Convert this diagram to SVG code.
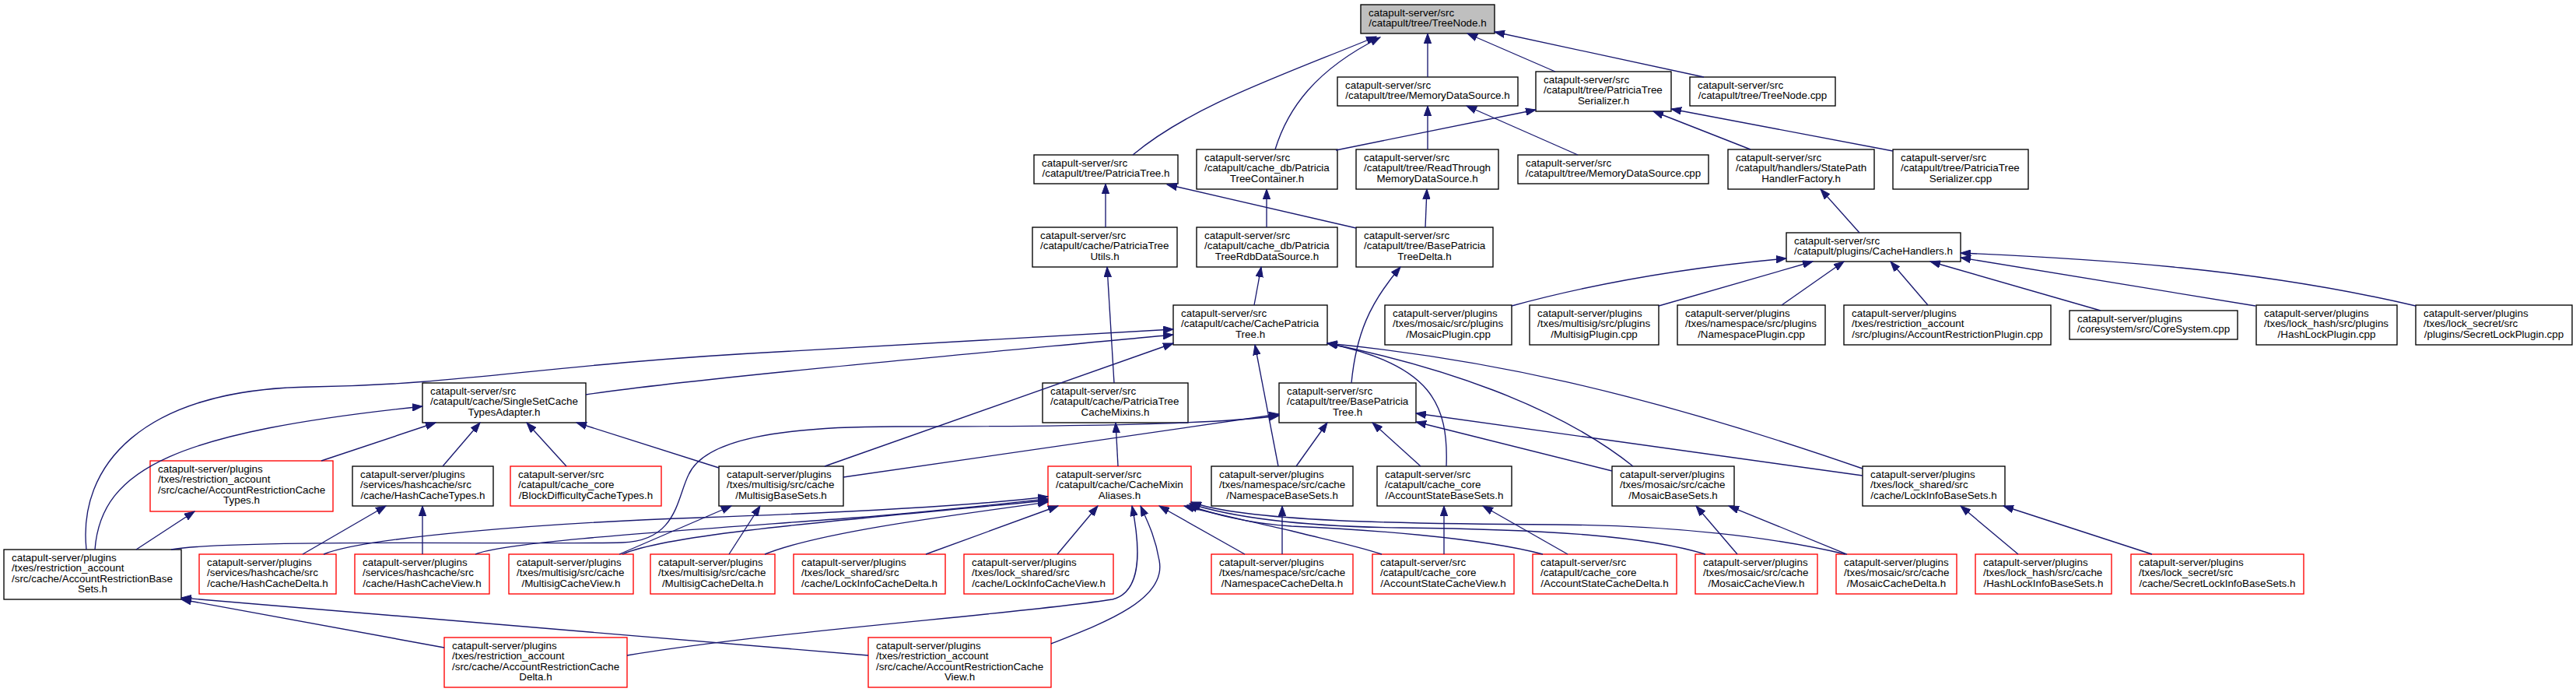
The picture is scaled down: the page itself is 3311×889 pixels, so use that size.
<svg xmlns="http://www.w3.org/2000/svg" width="3311" height="889" viewBox="0 0 3311 889">
<style>
.n rect{fill:#fff;stroke:#000;stroke-width:1.35}
.r rect{stroke:#f00}
.root rect{fill:#bfbfbf}
text{font-family:"Liberation Sans",Arial,Helvetica,sans-serif;font-size:13.4px;fill:#000}
.m{text-anchor:middle}
#edges path{fill:none;stroke:#191970;stroke-width:1.35;marker-end:url(#a)}
</style>
<defs>
<marker id="a" markerUnits="userSpaceOnUse" markerWidth="14" markerHeight="10" refX="13" refY="5" orient="auto"><path d="M0,0.3 L13,5 L0,9.7 Z" fill="#191970" stroke="#191970" stroke-width="1"/></marker>
</defs>
<rect width="3311" height="889" fill="#fff"/>
<g id="nodes">
<g id="n1" class="n root"><rect x="1749" y="6" width="172" height="37"/><text><tspan x="1759" y="21">catapult-server/src</tspan><tspan class="m" x="1835" y="34.4">/catapult/tree/TreeNode.h</tspan></text></g>
<g id="n2" class="n"><rect x="1719" y="99" width="232" height="37"/><text><tspan x="1729" y="114">catapult-server/src</tspan><tspan class="m" x="1835" y="127.4">/catapult/tree/MemoryDataSource.h</tspan></text></g>
<g id="n3" class="n"><rect x="1974" y="92" width="174" height="51"/><text><tspan x="1984" y="107">catapult-server/src</tspan><tspan x="1984" y="120.4">/catapult/tree/PatriciaTree</tspan><tspan class="m" x="2061" y="133.8">Serializer.h</tspan></text></g>
<g id="n4" class="n"><rect x="2172" y="99" width="187" height="37"/><text><tspan x="2182" y="114">catapult-server/src</tspan><tspan class="m" x="2265.5" y="127.4">/catapult/tree/TreeNode.cpp</tspan></text></g>
<g id="n5" class="n"><rect x="1329" y="199" width="185" height="37"/><text><tspan x="1339" y="214">catapult-server/src</tspan><tspan class="m" x="1421.5" y="227.4">/catapult/tree/PatriciaTree.h</tspan></text></g>
<g id="n6" class="n"><rect x="1538" y="192" width="181" height="51"/><text><tspan x="1548" y="207">catapult-server/src</tspan><tspan x="1548" y="220.4">/catapult/cache_db/Patricia</tspan><tspan class="m" x="1628.5" y="233.8">TreeContainer.h</tspan></text></g>
<g id="n7" class="n"><rect x="1743" y="192" width="183" height="51"/><text><tspan x="1753" y="207">catapult-server/src</tspan><tspan x="1753" y="220.4">/catapult/tree/ReadThrough</tspan><tspan class="m" x="1834.5" y="233.8">MemoryDataSource.h</tspan></text></g>
<g id="n8" class="n"><rect x="1951" y="199" width="245" height="37"/><text><tspan x="1961" y="214">catapult-server/src</tspan><tspan class="m" x="2073.5" y="227.4">/catapult/tree/MemoryDataSource.cpp</tspan></text></g>
<g id="n9" class="n"><rect x="2221" y="192" width="188" height="51"/><text><tspan x="2231" y="207">catapult-server/src</tspan><tspan x="2231" y="220.4">/catapult/handlers/StatePath</tspan><tspan class="m" x="2315" y="233.8">HandlerFactory.h</tspan></text></g>
<g id="n10" class="n"><rect x="2433" y="192" width="174" height="51"/><text><tspan x="2443" y="207">catapult-server/src</tspan><tspan x="2443" y="220.4">/catapult/tree/PatriciaTree</tspan><tspan class="m" x="2520" y="233.8">Serializer.cpp</tspan></text></g>
<g id="n11" class="n"><rect x="1327" y="292" width="186" height="51"/><text><tspan x="1337" y="307">catapult-server/src</tspan><tspan x="1337" y="320.4">/catapult/cache/PatriciaTree</tspan><tspan class="m" x="1420" y="333.8">Utils.h</tspan></text></g>
<g id="n12" class="n"><rect x="1538" y="292" width="181" height="51"/><text><tspan x="1548" y="307">catapult-server/src</tspan><tspan x="1548" y="320.4">/catapult/cache_db/Patricia</tspan><tspan class="m" x="1628.5" y="333.8">TreeRdbDataSource.h</tspan></text></g>
<g id="n13" class="n"><rect x="1743" y="292" width="176" height="51"/><text><tspan x="1753" y="307">catapult-server/src</tspan><tspan x="1753" y="320.4">/catapult/tree/BasePatricia</tspan><tspan class="m" x="1831" y="333.8">TreeDelta.h</tspan></text></g>
<g id="n14" class="n"><rect x="2296" y="299" width="224" height="37"/><text><tspan x="2306" y="314">catapult-server/src</tspan><tspan class="m" x="2408" y="327.4">/catapult/plugins/CacheHandlers.h</tspan></text></g>
<g id="n15" class="n"><rect x="1508" y="392" width="198" height="51"/><text><tspan x="1518" y="407">catapult-server/src</tspan><tspan x="1518" y="420.4">/catapult/cache/CachePatricia</tspan><tspan class="m" x="1607" y="433.8">Tree.h</tspan></text></g>
<g id="n16" class="n"><rect x="1780" y="392" width="163" height="51"/><text><tspan x="1790" y="407">catapult-server/plugins</tspan><tspan x="1790" y="420.4">/txes/mosaic/src/plugins</tspan><tspan class="m" x="1861.5" y="433.8">/MosaicPlugin.cpp</tspan></text></g>
<g id="n17" class="n"><rect x="1966" y="392" width="166" height="51"/><text><tspan x="1976" y="407">catapult-server/plugins</tspan><tspan x="1976" y="420.4">/txes/multisig/src/plugins</tspan><tspan class="m" x="2049" y="433.8">/MultisigPlugin.cpp</tspan></text></g>
<g id="n18" class="n"><rect x="2156" y="392" width="190" height="51"/><text><tspan x="2166" y="407">catapult-server/plugins</tspan><tspan x="2166" y="420.4">/txes/namespace/src/plugins</tspan><tspan class="m" x="2251" y="433.8">/NamespacePlugin.cpp</tspan></text></g>
<g id="n19" class="n"><rect x="2370" y="392" width="266" height="51"/><text><tspan x="2380" y="407">catapult-server/plugins</tspan><tspan x="2380" y="420.4">/txes/restriction_account</tspan><tspan class="m" x="2503" y="433.8">/src/plugins/AccountRestrictionPlugin.cpp</tspan></text></g>
<g id="n20" class="n"><rect x="2660" y="399" width="216" height="37"/><text><tspan x="2670" y="414">catapult-server/plugins</tspan><tspan class="m" x="2768" y="427.4">/coresystem/src/CoreSystem.cpp</tspan></text></g>
<g id="n21" class="n"><rect x="2900" y="392" width="181" height="51"/><text><tspan x="2910" y="407">catapult-server/plugins</tspan><tspan x="2910" y="420.4">/txes/lock_hash/src/plugins</tspan><tspan class="m" x="2990.5" y="433.8">/HashLockPlugin.cpp</tspan></text></g>
<g id="n22" class="n"><rect x="3105" y="392" width="201" height="51"/><text><tspan x="3115" y="407">catapult-server/plugins</tspan><tspan x="3115" y="420.4">/txes/lock_secret/src</tspan><tspan class="m" x="3205.5" y="433.8">/plugins/SecretLockPlugin.cpp</tspan></text></g>
<g id="n23" class="n"><rect x="543" y="492" width="210" height="51"/><text><tspan x="553" y="507">catapult-server/src</tspan><tspan x="553" y="520.4">/catapult/cache/SingleSetCache</tspan><tspan class="m" x="648" y="533.8">TypesAdapter.h</tspan></text></g>
<g id="n24" class="n"><rect x="1340" y="492" width="187" height="51"/><text><tspan x="1350" y="507">catapult-server/src</tspan><tspan x="1350" y="520.4">/catapult/cache/PatriciaTree</tspan><tspan class="m" x="1433.5" y="533.8">CacheMixins.h</tspan></text></g>
<g id="n25" class="n"><rect x="1644" y="492" width="176" height="51"/><text><tspan x="1654" y="507">catapult-server/src</tspan><tspan x="1654" y="520.4">/catapult/tree/BasePatricia</tspan><tspan class="m" x="1732" y="533.8">Tree.h</tspan></text></g>
<g id="n26" class="n r"><rect x="193" y="592" width="235" height="65"/><text><tspan x="203" y="607">catapult-server/plugins</tspan><tspan x="203" y="620.4">/txes/restriction_account</tspan><tspan x="203" y="633.8">/src/cache/AccountRestrictionCache</tspan><tspan class="m" x="310.5" y="647.2">Types.h</tspan></text></g>
<g id="n27" class="n"><rect x="453" y="599" width="181" height="51"/><text><tspan x="463" y="614">catapult-server/plugins</tspan><tspan x="463" y="627.4">/services/hashcache/src</tspan><tspan class="m" x="543.5" y="640.8">/cache/HashCacheTypes.h</tspan></text></g>
<g id="n28" class="n r"><rect x="656" y="599" width="194" height="51"/><text><tspan x="666" y="614">catapult-server/src</tspan><tspan x="666" y="627.4">/catapult/cache_core</tspan><tspan class="m" x="753" y="640.8">/BlockDifficultyCacheTypes.h</tspan></text></g>
<g id="n29" class="n"><rect x="924" y="599" width="160" height="51"/><text><tspan x="934" y="614">catapult-server/plugins</tspan><tspan x="934" y="627.4">/txes/multisig/src/cache</tspan><tspan class="m" x="1004" y="640.8">/MultisigBaseSets.h</tspan></text></g>
<g id="n30" class="n r"><rect x="1347" y="599" width="184" height="51"/><text><tspan x="1357" y="614">catapult-server/src</tspan><tspan x="1357" y="627.4">/catapult/cache/CacheMixin</tspan><tspan class="m" x="1439" y="640.8">Aliases.h</tspan></text></g>
<g id="n31" class="n"><rect x="1557" y="599" width="182" height="51"/><text><tspan x="1567" y="614">catapult-server/plugins</tspan><tspan x="1567" y="627.4">/txes/namespace/src/cache</tspan><tspan class="m" x="1648" y="640.8">/NamespaceBaseSets.h</tspan></text></g>
<g id="n32" class="n"><rect x="1770" y="599" width="173" height="51"/><text><tspan x="1780" y="614">catapult-server/src</tspan><tspan x="1780" y="627.4">/catapult/cache_core</tspan><tspan class="m" x="1856.5" y="640.8">/AccountStateBaseSets.h</tspan></text></g>
<g id="n33" class="n"><rect x="2072" y="599" width="157" height="51"/><text><tspan x="2082" y="614">catapult-server/plugins</tspan><tspan x="2082" y="627.4">/txes/mosaic/src/cache</tspan><tspan class="m" x="2150.5" y="640.8">/MosaicBaseSets.h</tspan></text></g>
<g id="n34" class="n"><rect x="2394" y="599" width="183" height="51"/><text><tspan x="2404" y="614">catapult-server/plugins</tspan><tspan x="2404" y="627.4">/txes/lock_shared/src</tspan><tspan class="m" x="2485.5" y="640.8">/cache/LockInfoBaseSets.h</tspan></text></g>
<g id="n35" class="n"><rect x="5" y="706" width="228" height="64"/><text><tspan x="15" y="721">catapult-server/plugins</tspan><tspan x="15" y="734.4">/txes/restriction_account</tspan><tspan x="15" y="747.8">/src/cache/AccountRestrictionBase</tspan><tspan class="m" x="119" y="761.2">Sets.h</tspan></text></g>
<g id="n36" class="n r"><rect x="256" y="712" width="176" height="51"/><text><tspan x="266" y="727">catapult-server/plugins</tspan><tspan x="266" y="740.4">/services/hashcache/src</tspan><tspan class="m" x="344" y="753.8">/cache/HashCacheDelta.h</tspan></text></g>
<g id="n37" class="n r"><rect x="456" y="712" width="173" height="51"/><text><tspan x="466" y="727">catapult-server/plugins</tspan><tspan x="466" y="740.4">/services/hashcache/src</tspan><tspan class="m" x="542.5" y="753.8">/cache/HashCacheView.h</tspan></text></g>
<g id="n38" class="n r"><rect x="654" y="712" width="160" height="51"/><text><tspan x="664" y="727">catapult-server/plugins</tspan><tspan x="664" y="740.4">/txes/multisig/src/cache</tspan><tspan class="m" x="734" y="753.8">/MultisigCacheView.h</tspan></text></g>
<g id="n39" class="n r"><rect x="836" y="712" width="160" height="51"/><text><tspan x="846" y="727">catapult-server/plugins</tspan><tspan x="846" y="740.4">/txes/multisig/src/cache</tspan><tspan class="m" x="916" y="753.8">/MultisigCacheDelta.h</tspan></text></g>
<g id="n40" class="n r"><rect x="1020" y="712" width="195" height="51"/><text><tspan x="1030" y="727">catapult-server/plugins</tspan><tspan x="1030" y="740.4">/txes/lock_shared/src</tspan><tspan class="m" x="1117.5" y="753.8">/cache/LockInfoCacheDelta.h</tspan></text></g>
<g id="n41" class="n r"><rect x="1239" y="712" width="192" height="51"/><text><tspan x="1249" y="727">catapult-server/plugins</tspan><tspan x="1249" y="740.4">/txes/lock_shared/src</tspan><tspan class="m" x="1335" y="753.8">/cache/LockInfoCacheView.h</tspan></text></g>
<g id="n42" class="n r"><rect x="1557" y="712" width="182" height="51"/><text><tspan x="1567" y="727">catapult-server/plugins</tspan><tspan x="1567" y="740.4">/txes/namespace/src/cache</tspan><tspan class="m" x="1648" y="753.8">/NamespaceCacheDelta.h</tspan></text></g>
<g id="n43" class="n r"><rect x="1764" y="712" width="182" height="51"/><text><tspan x="1774" y="727">catapult-server/src</tspan><tspan x="1774" y="740.4">/catapult/cache_core</tspan><tspan class="m" x="1855" y="753.8">/AccountStateCacheView.h</tspan></text></g>
<g id="n44" class="n r"><rect x="1970" y="712" width="185" height="51"/><text><tspan x="1980" y="727">catapult-server/src</tspan><tspan x="1980" y="740.4">/catapult/cache_core</tspan><tspan class="m" x="2062.5" y="753.8">/AccountStateCacheDelta.h</tspan></text></g>
<g id="n45" class="n r"><rect x="2179" y="712" width="157" height="51"/><text><tspan x="2189" y="727">catapult-server/plugins</tspan><tspan x="2189" y="740.4">/txes/mosaic/src/cache</tspan><tspan class="m" x="2257.5" y="753.8">/MosaicCacheView.h</tspan></text></g>
<g id="n46" class="n r"><rect x="2360" y="712" width="155" height="51"/><text><tspan x="2370" y="727">catapult-server/plugins</tspan><tspan x="2370" y="740.4">/txes/mosaic/src/cache</tspan><tspan class="m" x="2437.5" y="753.8">/MosaicCacheDelta.h</tspan></text></g>
<g id="n47" class="n r"><rect x="2539" y="712" width="175" height="51"/><text><tspan x="2549" y="727">catapult-server/plugins</tspan><tspan x="2549" y="740.4">/txes/lock_hash/src/cache</tspan><tspan class="m" x="2626.5" y="753.8">/HashLockInfoBaseSets.h</tspan></text></g>
<g id="n48" class="n r"><rect x="2739" y="712" width="222" height="51"/><text><tspan x="2749" y="727">catapult-server/plugins</tspan><tspan x="2749" y="740.4">/txes/lock_secret/src</tspan><tspan class="m" x="2850" y="753.8">/cache/SecretLockInfoBaseSets.h</tspan></text></g>
<g id="n49" class="n r"><rect x="571" y="819" width="235" height="64"/><text><tspan x="581" y="834">catapult-server/plugins</tspan><tspan x="581" y="847.4">/txes/restriction_account</tspan><tspan x="581" y="860.8">/src/cache/AccountRestrictionCache</tspan><tspan class="m" x="688.5" y="874.2">Delta.h</tspan></text></g>
<g id="n50" class="n r"><rect x="1116" y="819" width="235" height="64"/><text><tspan x="1126" y="834">catapult-server/plugins</tspan><tspan x="1126" y="847.4">/txes/restriction_account</tspan><tspan x="1126" y="860.8">/src/cache/AccountRestrictionCache</tspan><tspan class="m" x="1233.5" y="874.2">View.h</tspan></text></g>
</g>
<g id="edges">
<path d="M1456,199 C1530,137 1640,100 1769,47"/>
<path d="M1639,192 C1655,140 1690,90 1774,48"/>
<path d="M1835,99 L1835,43"/>
<path d="M1999,92 L1886,43"/>
<path d="M2190,99 L1921,41"/>
<path d="M1835,192 L1835,136"/>
<path d="M2028,199 L1885,136"/>
<path d="M1717,193 L1974,141"/>
<path d="M2250,192 L2125,143"/>
<path d="M2433,194 L2148,140"/>
<path d="M1421,292 L1421,236"/>
<path d="M1743,293 L1500,237"/>
<path d="M1628,292 L1628,243"/>
<path d="M1832,292 L1834,243"/>
<path d="M2390,299 L2340,243"/>
<path d="M1943,393 Q2100,350 2296,332"/>
<path d="M2132,393 L2330,336"/>
<path d="M2290,392 L2370,336"/>
<path d="M2478,392 L2430,336"/>
<path d="M2700,399 L2481,336"/>
<path d="M2899,393 L2520,331"/>
<path d="M3105,393 C2900,345 2700,333 2520,325"/>
<path d="M1612,392 L1621,343"/>
<path d="M1432,492 L1423,343"/>
<path d="M1737,492 C1743,430 1760,390 1800,343"/>
<path d="M753,507 C900,485 1300,450 1508,430"/>
<path d="M111,706 C100,600 180,500 400,497 C600,494 700,468 1000,452 C1200,440 1400,428 1508,423"/>
<path d="M1060,599 L1508,441"/>
<path d="M1643,599 L1613,443"/>
<path d="M1859,599 C1862,520 1840,468 1706,441"/>
<path d="M2099,599 C2000,520 1850,470 1706,441"/>
<path d="M2394,602 C2100,500 1900,460 1706,441"/>
<path d="M413,592 L560,543"/>
<path d="M569,599 L617,543"/>
<path d="M728,599 L677,543"/>
<path d="M924,601 L741,543"/>
<path d="M122,706 C130,600 230,555 543,522"/>
<path d="M175,706 L250,657"/>
<path d="M389,712 L496,650"/>
<path d="M543,712 L543,650"/>
<path d="M571,832 L233,770"/>
<path d="M1116,842 L233,768"/>
<path d="M1437,599 L1434,543"/>
<path d="M1084,613 L1644,532"/>
<path d="M220,706 C300,692 700,700 800,697 C870,695 870,640 885,610 C905,565 1000,548 1150,548 C1400,548 1560,545 1644,534"/>
<path d="M1666,599 L1706,543"/>
<path d="M1826,599 L1764,543"/>
<path d="M2072,605 L1820,542"/>
<path d="M2394,611 L1820,531"/>
<path d="M937,712 L977,650"/>
<path d="M796,712 L940,650"/>
<path d="M416,712 C470,690 700,672 900,665 C1100,658 1250,650 1347,638"/>
<path d="M611,712 C650,695 900,680 1100,665 C1200,657 1280,648 1347,641"/>
<path d="M800,712 C850,690 1000,675 1347,643"/>
<path d="M983,712 C1050,685 1200,665 1347,645"/>
<path d="M1190,712 L1360,650"/>
<path d="M1359,712 L1411,650"/>
<path d="M806,842 C1000,810 1300,790 1430,770 C1470,760 1465,700 1455,650"/>
<path d="M1351,827 C1420,800 1500,770 1490,720 C1485,690 1475,670 1466,650"/>
<path d="M1600,712 L1490,650"/>
<path d="M1776,712 C1740,700 1690,690 1660,682 C1600,668 1560,660 1522,650"/>
<path d="M1983,712 C1900,690 1750,680 1660,676 C1600,672 1560,660 1526,649"/>
<path d="M2192,712 C2120,690 2000,680 1800,678 C1650,676 1570,660 1529,647"/>
<path d="M2372,712 C2280,690 2150,675 2000,674 C1800,673 1600,670 1531,645"/>
<path d="M1648,712 L1648,650"/>
<path d="M1856,712 L1856,650"/>
<path d="M2015,712 L1906,650"/>
<path d="M2233,712 L2180,650"/>
<path d="M2374,712 L2222,650"/>
<path d="M2594,712 L2520,650"/>
<path d="M2766,712 L2575,650"/>
</g>
</svg>
